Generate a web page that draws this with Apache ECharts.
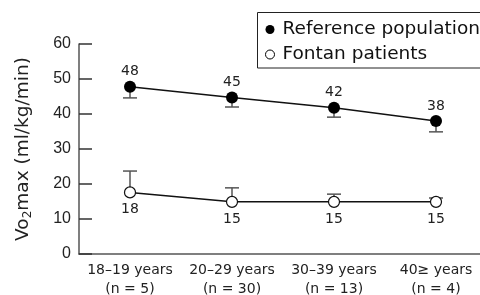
<!DOCTYPE html>
<html>
<head>
<meta charset="utf-8">
<script src="https://cdn.jsdelivr.net/npm/echarts@6/dist/echarts.min.js"></script>
<style>
  html, body { margin: 0; padding: 0; background: #fff; }
  #chart { width: 480px; height: 295px; }
</style>
</head>
<body>
<div id="chart"></div>
<script>
  // data
  const ageGroups = ['18–19 years\n(n = 5)', '20–29 years\n(n = 30)', '30–39 years\n(n = 13)', '40≥ years\n(n = 4)']
  const refMean = [47.8, 44.7, 41.8, 38.0]
  const refLower = [44.6, 42.0, 39.1, 34.9]
  const fontanMean = [17.6, 14.9, 14.9, 14.9]
  const fontanUpper = [23.7, 18.9, 17.1, 16.0]
  const yTicks = { min: 0, max: 60, interval: 10 }

  const font = 'Liberation Sans, Arial, sans-serif'
  const wide = 'DejaVu Sans, sans-serif'

  function errBars(means, ends) {
    return means.map((m, i) => [i, m, ends[i]])
  }

  // whisker from mean to end, with a cap at the end
  function renderErr(params, api) {
    const p0 = api.coord([api.value(0), api.value(1)])
    const p1 = api.coord([api.value(0), api.value(2)])
    const w = 7
    return {
      type: 'group',
      children: [
        { type: 'line', shape: { x1: p0[0], y1: p0[1], x2: p1[0], y2: p1[1] },
          style: { stroke: '#555', lineWidth: 1.5 } },
        { type: 'line', shape: { x1: p1[0] - w, y1: p1[1], x2: p1[0] + w, y2: p1[1] },
          style: { stroke: '#555', lineWidth: 1.5 } }
      ]
    }
  }

  const chart = echarts.init(document.getElementById('chart'))
  const option = {
    animation: false,
    textStyle: { fontFamily: font },
    // legend frame runs off the right edge in the original
    graphic: [{
      type: 'rect',
      shape: { x: 257.5, y: 12.5, width: 260, height: 55.5 },
      style: { fill: 'none', stroke: '#222', lineWidth: 1 },
      silent: true
    }],
    legend: {
      orient: 'vertical',
      left: 257,
      top: 13,
      padding: [7, 0, 6, 8],
      itemGap: 6,
      itemWidth: 9,
      itemHeight: 9,
      textStyle: { fontSize: 18.5, lineHeight: 18, color: '#111', fontFamily: wide, padding: [0, 0, 0, 3] },
      data: [
        { name: 'Reference population', icon: 'circle', itemStyle: { color: '#000', borderWidth: 0 } },
        { name: 'Fontan patients', icon: 'circle', itemStyle: { color: '#fff', borderColor: '#000', borderWidth: 1 } }
      ]
    },
    grid: { left: 79, top: 44, bottom: 41, width: 408, containLabel: false, outerBoundsMode: 'none' },
    xAxis: {
      type: 'category',
      data: ageGroups,
      boundaryGap: true,
      axisLine: { lineStyle: { color: '#555', width: 1.5 } },
      axisTick: { inside: true, length: 14, lineStyle: { color: '#555', width: 1.5 } },
      axisLabel: { fontSize: 14, fontFamily: wide, color: '#222', lineHeight: 19, margin: 7, interval: 0 }
    },
    yAxis: {
      type: 'value',
      min: yTicks.min,
      max: yTicks.max,
      interval: yTicks.interval,
      name: '{a|Vo}{s|2}{a|max (ml/kg/min)}',
      nameLocation: 'middle',
      nameGap: 45,
      nameRotate: 90,
      nameTextStyle: {
        rich: {
          a: { fontSize: 18.5, color: '#222', fontFamily: wide },
          s: { fontSize: 12, color: '#222', fontFamily: wide, padding: [9, 0, 0, 0] }
        }
      },
      splitLine: { show: false },
      axisLine: { show: true, lineStyle: { color: '#555', width: 1.5 } },
      axisTick: { show: true, inside: true, length: 13, lineStyle: { color: '#333', width: 1.5 } },
      axisLabel: { fontSize: 16, color: '#222', margin: 8 }
    },
    series: [
      {
        type: 'custom',
        renderItem: renderErr,
        data: errBars(refMean, refLower),
        z: 1,
        silent: true
      },
      {
        type: 'custom',
        renderItem: renderErr,
        data: errBars(fontanMean, fontanUpper),
        z: 1,
        silent: true
      },
      {
        name: 'Reference population',
        type: 'line',
        data: refMean,
        symbol: 'circle',
        symbolSize: 12,
        z: 3,
        lineStyle: { color: '#111', width: 1.5 },
        itemStyle: { color: '#000', borderWidth: 0 },
        label: {
          show: true, position: 'top', distance: 2, fontSize: 14, fontFamily: wide, color: '#222',
          formatter: p => Math.round(p.value)
        }
      },
      {
        name: 'Fontan patients',
        type: 'line',
        data: fontanMean,
        symbol: 'circle',
        symbolSize: 11,
        z: 3,
        lineStyle: { color: '#111', width: 1.5 },
        itemStyle: { color: '#fff', borderColor: '#111', borderWidth: 1.2 },
        label: {
          show: true, position: 'bottom', distance: 4, fontSize: 14, fontFamily: wide, color: '#222',
          formatter: p => Math.round(p.value)
        }
      }
    ]
  }
  chart.setOption(option)
</script>
</body>
</html>
